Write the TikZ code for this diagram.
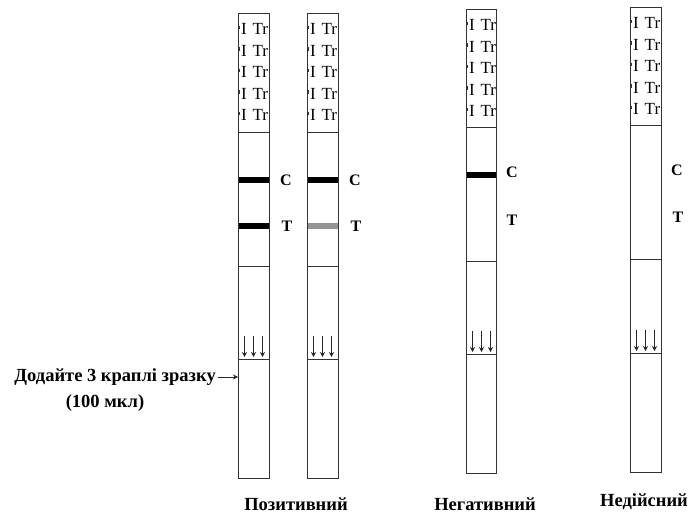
\documentclass[tikz,border=0pt]{standalone}
\usepackage{fontspec}
\setmainfont{Liberation Serif}
\usetikzlibrary{arrows.meta}
\tikzset{
  stripline/.style={draw=black!80, line width=0.9pt},
  cband/.style={fill=black},
  gband/.style={fill=black!42},
  itext/.style={font=\fontsize{17}{17}\selectfont, inner sep=0pt, anchor=west},
  ctlabel/.style={font=\bfseries\fontsize{16}{16}\selectfont, inner sep=0pt},
  result/.style={font=\bfseries\fontsize{18.5}{18.5}\selectfont, inner sep=0pt},
  flowarrow/.style={draw=black!85, line width=0.8pt, -{Stealth[length=5pt,width=5pt]}},
}
% #1 xl, #2 xr, #3 top, #4 d1, #5 d2, #6 d3, #7 bottom, #8 name
\newcommand\DrawStrip[8]{%
  \begin{scope}
    \clip (#1,#3) rectangle (#2,#4);
    \foreach \k in {0,...,4} {
      \node[itext] at ({#1+3},{#3+16+21.5*\k}) {I};
      \node[itext] at ({#1+14.5},{#3+16+21.5*\k}) {Tr};
      \draw[black!80, line width=0.5pt] ({#1+1.2},{#3+13+21.5*\k}) -- ({#1+1.2},{#3+16.5+21.5*\k});
    }
  \end{scope}
  \foreach \dx in {6.5,15.5,24.5} {
    \draw[flowarrow] ({#1+\dx},{#6-23}) -- ({#1+\dx},{#6-2});
  }
  \draw[stripline] (#1,#3) rectangle (#2,#7);
  \draw[stripline] (#1,#4) -- (#2,#4);
  \draw[stripline] (#1,#5) -- (#2,#5);
  \draw[stripline] (#1,#6) -- (#2,#6);
  \coordinate (#8) at (#1,#3);
}
\begin{document}
\begin{tikzpicture}[x=1pt,y=-1pt]
\useasboundingbox (0,0) rectangle (693,513);
\fill[white] (0,0) rectangle (693,513);

% bands
\fill[cband] (238,177) rectangle (269,183);
\fill[cband] (238,223) rectangle (269,229);
\fill[cband] (307,177) rectangle (338,183);
\fill[gband] (307,223) rectangle (338,229);
\fill[cband] (466,172.5) rectangle (496,178.5);

\DrawStrip{238}{269}{13}{132}{266.5}{359}{478}{s1}
\DrawStrip{307}{338}{13}{132}{266.5}{359}{478}{s2}
\DrawStrip{466}{496}{9}{127}{261}{354}{473}{s3}
\DrawStrip{630}{661}{7}{125}{259}{353}{472}{s4}

% C / T labels
\node[ctlabel] (c1) at (286,180) {C};
\node[ctlabel] (t1) at (287,226) {T};
\node[ctlabel] (c2) at (355,180) {C};
\node[ctlabel] (t2) at (356,226) {T};
\node[ctlabel] (c3) at (512,172) {C};
\node[ctlabel] (t3) at (512,220) {T};
\node[ctlabel] (c4) at (677,170) {C};
\node[ctlabel] (t4) at (678,217) {T};

% sample label
\node[result, anchor=east] (add) at (216,377) {Додайте 3 краплі зразку};
\node[result] (vol) at (105,403) {(100 мкл)};
\coordinate (s1in) at (238,377);
\draw[flowarrow] ([xshift=2pt]add.east) -- (s1in);

% result labels
\node[result] (pos) at (296,504) {Позитивний};
\node[result] (neg) at (485,504) {Негативний};
\node[result] (inv) at (644,502) {Недійсний};
\end{tikzpicture}
\end{document}
